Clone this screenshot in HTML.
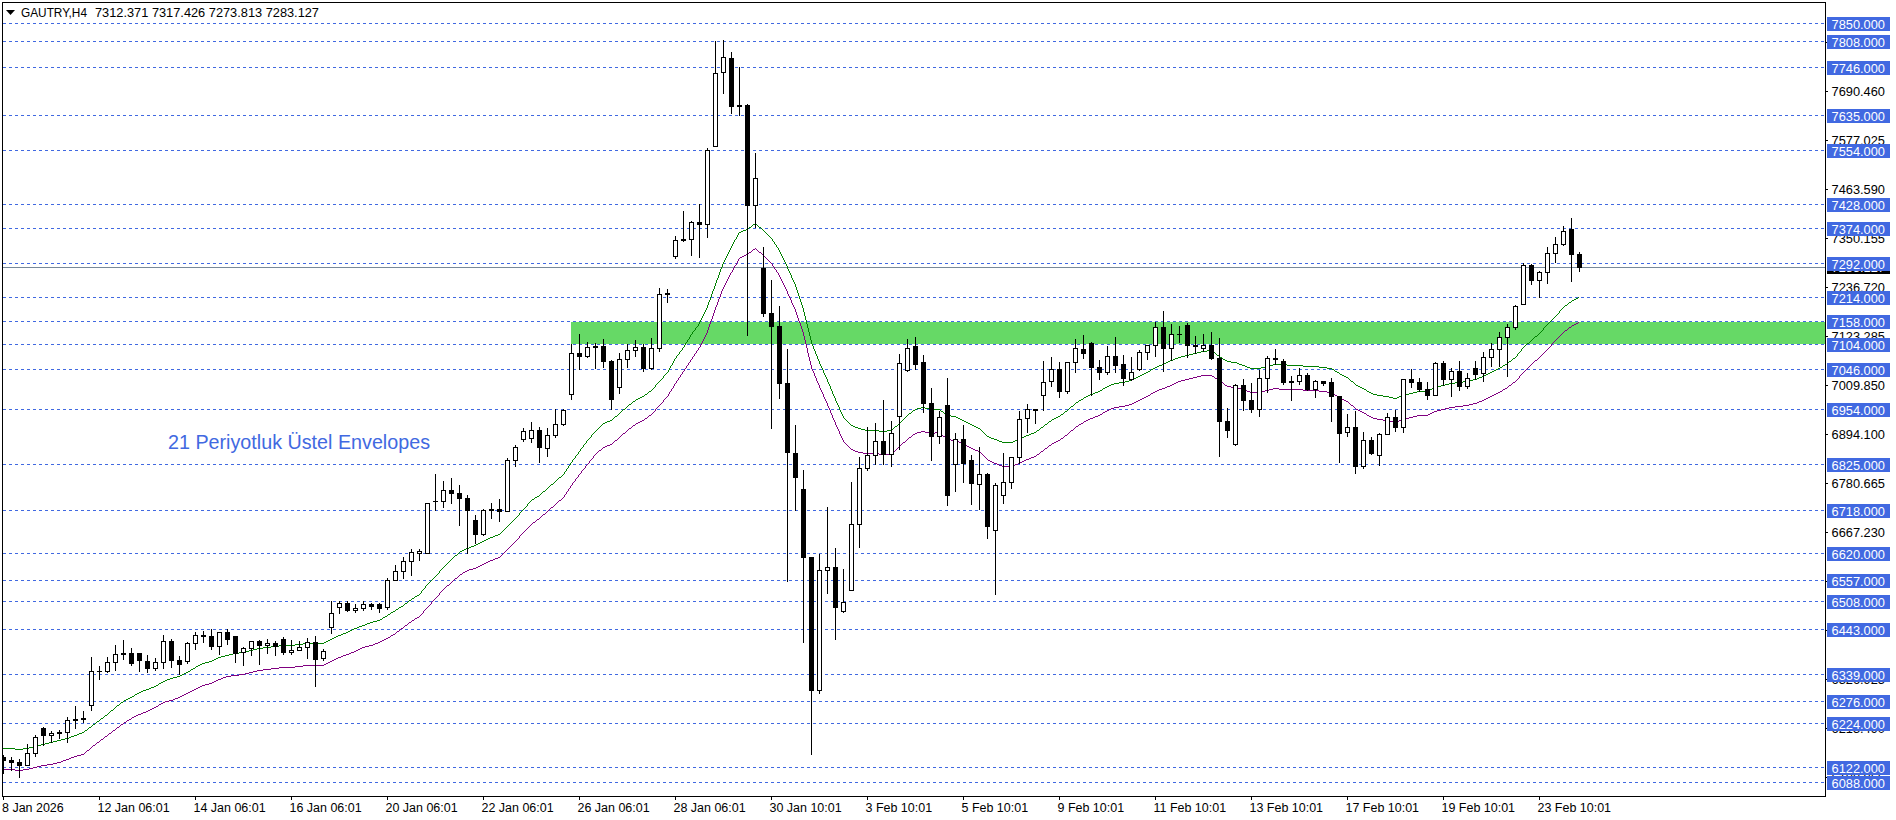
<!DOCTYPE html><html><head><meta charset="utf-8"><style>html,body{margin:0;padding:0;background:#fff;width:1896px;height:820px;overflow:hidden}svg{display:block}text{font-family:"Liberation Sans",sans-serif}</style></head><body>
<svg width="1896" height="820" viewBox="0 0 1896 820">
<rect x="0" y="0" width="1896" height="820" fill="#fff"/>
<defs><clipPath id="ca"><rect x="3" y="3" width="1822" height="793"/></clipPath></defs>
<g clip-path="url(#ca)">
<g shape-rendering="crispEdges">
<rect x="571" y="322" width="1254" height="22" fill="#66d966"/>
<line x1="3" y1="23.5" x2="1825" y2="23.5" stroke="#4169e1" stroke-width="1" stroke-dasharray="3 3"/>
<line x1="3" y1="41.5" x2="1825" y2="41.5" stroke="#4169e1" stroke-width="1" stroke-dasharray="3 3"/>
<line x1="3" y1="67.5" x2="1825" y2="67.5" stroke="#4169e1" stroke-width="1" stroke-dasharray="3 3"/>
<line x1="3" y1="115.5" x2="1825" y2="115.5" stroke="#4169e1" stroke-width="1" stroke-dasharray="3 3"/>
<line x1="3" y1="150.5" x2="1825" y2="150.5" stroke="#4169e1" stroke-width="1" stroke-dasharray="3 3"/>
<line x1="3" y1="204.5" x2="1825" y2="204.5" stroke="#4169e1" stroke-width="1" stroke-dasharray="3 3"/>
<line x1="3" y1="228.5" x2="1825" y2="228.5" stroke="#4169e1" stroke-width="1" stroke-dasharray="3 3"/>
<line x1="3" y1="263.5" x2="1825" y2="263.5" stroke="#4169e1" stroke-width="1" stroke-dasharray="3 3"/>
<line x1="3" y1="297.5" x2="1825" y2="297.5" stroke="#4169e1" stroke-width="1" stroke-dasharray="3 3"/>
<line x1="3" y1="321.5" x2="1825" y2="321.5" stroke="#4169e1" stroke-width="1" stroke-dasharray="3 3"/>
<line x1="3" y1="344.5" x2="1825" y2="344.5" stroke="#4169e1" stroke-width="1" stroke-dasharray="3 3"/>
<line x1="3" y1="369.5" x2="1825" y2="369.5" stroke="#4169e1" stroke-width="1" stroke-dasharray="3 3"/>
<line x1="3" y1="409.5" x2="1825" y2="409.5" stroke="#4169e1" stroke-width="1" stroke-dasharray="3 3"/>
<line x1="3" y1="464.5" x2="1825" y2="464.5" stroke="#4169e1" stroke-width="1" stroke-dasharray="3 3"/>
<line x1="3" y1="510.5" x2="1825" y2="510.5" stroke="#4169e1" stroke-width="1" stroke-dasharray="3 3"/>
<line x1="3" y1="553.5" x2="1825" y2="553.5" stroke="#4169e1" stroke-width="1" stroke-dasharray="3 3"/>
<line x1="3" y1="580.5" x2="1825" y2="580.5" stroke="#4169e1" stroke-width="1" stroke-dasharray="3 3"/>
<line x1="3" y1="601.5" x2="1825" y2="601.5" stroke="#4169e1" stroke-width="1" stroke-dasharray="3 3"/>
<line x1="3" y1="629.5" x2="1825" y2="629.5" stroke="#4169e1" stroke-width="1" stroke-dasharray="3 3"/>
<line x1="3" y1="674.5" x2="1825" y2="674.5" stroke="#4169e1" stroke-width="1" stroke-dasharray="3 3"/>
<line x1="3" y1="701.5" x2="1825" y2="701.5" stroke="#4169e1" stroke-width="1" stroke-dasharray="3 3"/>
<line x1="3" y1="723.5" x2="1825" y2="723.5" stroke="#4169e1" stroke-width="1" stroke-dasharray="3 3"/>
<line x1="3" y1="767.5" x2="1825" y2="767.5" stroke="#4169e1" stroke-width="1" stroke-dasharray="3 3"/>
<line x1="3" y1="782.5" x2="1825" y2="782.5" stroke="#4169e1" stroke-width="1" stroke-dasharray="3 3"/>
<rect x="3" y="267" width="1822" height="1" fill="#778899"/>
<path d="M263 647h8v1h-8zM572 460h1v1h-1zM696 327h1v1h-1zM807 327h1v1h-1zM1544 327h1v1h-1zM591 436h1v1h-1zM987 436h2v1h-2zM1024 436h2v1h-2zM719 273h1v1h-1zM790 273h1v1h-1zM673 362h1v1h-1zM819 362h1v1h-1zM1166 362h2v1h-2zM1231 362h6v1h-6zM1508 362h1v1h-1zM670 367h1v1h-1zM821 367h1v1h-1zM1155 367h2v1h-2zM1247 367h3v1h-3zM1261 367h4v1h-4zM1319 367h8v1h-8zM1500 367h2v1h-2zM615 416h2v1h-2zM843 416h1v1h-1zM906 416h1v1h-1zM951 416h5v1h-5zM1058 416h2v1h-2zM670 366h1v1h-1zM821 366h1v1h-1zM1157 366h2v1h-2zM1245 366h2v1h-2zM1265 366h4v1h-4zM1303 366h16v1h-16zM1502 366h1v1h-1zM61 739h4v1h-4zM649 391h2v1h-2zM832 391h1v1h-1zM1098 391h2v1h-2zM1367 391h2v1h-2zM1417 391h11v1h-11zM623 409h2v1h-2zM839 409h1v1h-1zM915 409h2v1h-2zM929 409h11v1h-11zM1068 409h1v1h-1zM653 388h1v1h-1zM830 388h1v1h-1zM1103 388h2v1h-2zM1362 388h2v1h-2zM1432 388h2v1h-2zM713 290h1v1h-1zM797 290h1v1h-1zM161 682h2v1h-2zM671 365h1v1h-1zM820 365h1v1h-1zM1159 365h3v1h-3zM1242 365h3v1h-3zM1269 365h4v1h-4zM1287 365h16v1h-16zM1503 365h2v1h-2zM3 748h12v1h-12zM23 748h6v1h-6zM583 446h1v1h-1zM326 641h2v1h-2zM669 369h1v1h-1zM822 369h1v1h-1zM1151 369h2v1h-2zM1332 369h2v1h-2zM1496 369h2v1h-2zM625 408h1v1h-1zM839 408h1v1h-1zM917 408h4v1h-4zM925 408h4v1h-4zM1069 408h1v1h-1zM158 684h1v1h-1zM622 410h1v1h-1zM840 410h1v1h-1zM913 410h2v1h-2zM940 410h1v1h-1zM1067 410h1v1h-1zM49 742h4v1h-4zM188 671h2v1h-2zM657 383h1v1h-1zM828 383h1v1h-1zM1114 383h5v1h-5zM1354 383h1v1h-1zM1449 383h6v1h-6zM752 225h1v1h-1zM757 225h1v1h-1zM680 351h1v1h-1zM815 351h1v1h-1zM1201 351h6v1h-6zM1212 351h1v1h-1zM1520 351h1v1h-1zM212 660h2v1h-2zM664 375h1v1h-1zM825 375h1v1h-1zM1140 375h2v1h-2zM1342 375h2v1h-2zM1484 375h2v1h-2zM700 320h1v1h-1zM806 320h1v1h-1zM1551 320h1v1h-1zM427 584h1v1h-1zM594 432h1v1h-1zM983 432h1v1h-1zM1034 432h2v1h-2zM205 662h4v1h-4zM588 439h1v1h-1zM994 439h3v1h-3zM1018 439h2v1h-2zM303 643h21v1h-21zM613 418h1v1h-1zM844 418h1v1h-1zM904 418h1v1h-1zM958 418h2v1h-2zM1054 418h2v1h-2zM37 745h4v1h-4zM346 632h2v1h-2zM466 548h3v1h-3zM730 249h1v1h-1zM778 249h1v1h-1zM656 384h1v1h-1zM829 384h1v1h-1zM1111 384h3v1h-3zM1355 384h1v1h-1zM1445 384h4v1h-4zM669 368h1v1h-1zM822 368h1v1h-1zM1153 368h2v1h-2zM1250 368h11v1h-11zM1327 368h5v1h-5zM1498 368h2v1h-2zM678 354h1v1h-1zM816 354h1v1h-1zM1189 354h4v1h-4zM1216 354h1v1h-1zM1517 354h1v1h-1zM699 323h1v1h-1zM806 323h1v1h-1zM1548 323h1v1h-1zM610 420h2v1h-2zM846 420h1v1h-1zM902 420h1v1h-1zM962 420h2v1h-2zM1051 420h1v1h-1zM633 401h2v1h-2zM836 401h1v1h-1zM1078 401h1v1h-1zM722 265h1v1h-1zM786 265h1v1h-1zM647 393h1v1h-1zM832 393h1v1h-1zM1093 393h2v1h-2zM1371 393h2v1h-2zM1409 393h4v1h-4zM661 379h1v1h-1zM827 379h1v1h-1zM1132 379h2v1h-2zM1349 379h1v1h-1zM1473 379h4v1h-4zM439 572h1v1h-1zM648 392h1v1h-1zM832 392h1v1h-1zM1095 392h3v1h-3zM1369 392h2v1h-2zM1413 392h4v1h-4zM698 324h1v1h-1zM807 324h1v1h-1zM1547 324h1v1h-1zM551 484h2v1h-2zM571 462h1v1h-1zM726 256h1v1h-1zM782 256h1v1h-1zM654 387h1v1h-1zM830 387h1v1h-1zM1105 387h2v1h-2zM1360 387h2v1h-2zM1434 387h3v1h-3zM707 307h1v1h-1zM802 307h1v1h-1zM1563 307h1v1h-1zM658 382h1v1h-1zM828 382h1v1h-1zM1119 382h6v1h-6zM1353 382h1v1h-1zM1455 382h8v1h-8zM629 404h2v1h-2zM837 404h1v1h-1zM1074 404h1v1h-1zM596 430h1v1h-1zM865 430h14v1h-14zM887 430h5v1h-5zM981 430h1v1h-1zM1037 430h2v1h-2zM295 644h8v1h-8zM712 293h1v1h-1zM798 293h1v1h-1zM130 697h2v1h-2zM504 529h1v1h-1zM640 397h2v1h-2zM834 397h1v1h-1zM1084 397h2v1h-2zM1389 397h4v1h-4zM1397 397h2v1h-2zM642 396h2v1h-2zM834 396h1v1h-1zM1086 396h2v1h-2zM1383 396h6v1h-6zM1399 396h3v1h-3zM562 475h1v1h-1zM586 442h1v1h-1zM1002 442h11v1h-11zM519 513h1v1h-1zM180 675h2v1h-2zM706 308h1v1h-1zM803 308h1v1h-1zM1562 308h1v1h-1zM709 301h1v1h-1zM800 301h1v1h-1zM1571 301h1v1h-1zM149 688h2v1h-2zM692 333h1v1h-1zM809 333h1v1h-1zM1539 333h1v1h-1zM716 281h1v1h-1zM793 281h1v1h-1zM660 380h1v1h-1zM827 380h1v1h-1zM1129 380h3v1h-3zM1350 380h1v1h-1zM1469 380h4v1h-4zM367 623h3v1h-3zM198 665h2v1h-2zM511 522h1v1h-1zM672 364h1v1h-1zM820 364h1v1h-1zM1162 364h2v1h-2zM1239 364h3v1h-3zM1273 364h14v1h-14zM1505 364h2v1h-2zM617 415h1v1h-1zM842 415h1v1h-1zM907 415h1v1h-1zM947 415h4v1h-4zM1060 415h1v1h-1zM570 464h1v1h-1zM674 360h1v1h-1zM818 360h1v1h-1zM1170 360h3v1h-3zM1225 360h2v1h-2zM1511 360h1v1h-1zM668 370h1v1h-1zM823 370h1v1h-1zM1150 370h1v1h-1zM1334 370h1v1h-1zM1494 370h2v1h-2zM165 680h2v1h-2zM673 361h1v1h-1zM819 361h1v1h-1zM1168 361h2v1h-2zM1227 361h4v1h-4zM1509 361h2v1h-2zM618 414h1v1h-1zM842 414h1v1h-1zM908 414h1v1h-1zM945 414h2v1h-2zM1061 414h2v1h-2zM253 649h4v1h-4zM667 372h1v1h-1zM823 372h1v1h-1zM1146 372h2v1h-2zM1337 372h2v1h-2zM1490 372h2v1h-2zM82 732h2v1h-2zM668 371h1v1h-1zM823 371h1v1h-1zM1148 371h2v1h-2zM1335 371h2v1h-2zM1492 371h2v1h-2zM105 715h2v1h-2zM523 509h1v1h-1zM682 348h1v1h-1zM813 348h1v1h-1zM1522 348h1v1h-1zM644 395h1v1h-1zM833 395h1v1h-1zM1088 395h2v1h-2zM1377 395h6v1h-6zM1402 395h3v1h-3zM405 603h2v1h-2zM672 363h1v1h-1zM819 363h1v1h-1zM1164 363h2v1h-2zM1237 363h2v1h-2zM1507 363h1v1h-1zM239 652h6v1h-6zM687 340h1v1h-1zM811 340h1v1h-1zM1531 340h1v1h-1zM233 653h6v1h-6zM723 263h1v1h-1zM785 263h1v1h-1zM676 356h1v1h-1zM817 356h1v1h-1zM1181 356h4v1h-4zM1219 356h1v1h-1zM1516 356h1v1h-1zM699 322h1v1h-1zM806 322h1v1h-1zM1549 322h1v1h-1zM739 232h2v1h-2zM765 232h1v1h-1zM715 283h1v1h-1zM794 283h1v1h-1zM659 381h1v1h-1zM827 381h1v1h-1zM1125 381h4v1h-4zM1351 381h2v1h-2zM1463 381h6v1h-6zM113 709h1v1h-1zM141 691h2v1h-2zM620 412h1v1h-1zM841 412h1v1h-1zM911 412h1v1h-1zM943 412h1v1h-1zM1064 412h1v1h-1zM717 279h1v1h-1zM792 279h1v1h-1zM91 726h1v1h-1zM137 693h2v1h-2zM715 284h1v1h-1zM795 284h1v1h-1zM735 239h1v1h-1zM772 239h1v1h-1zM711 295h1v1h-1zM798 295h1v1h-1zM216 658h2v1h-2zM354 628h3v1h-3zM681 350h1v1h-1zM814 350h1v1h-1zM1207 350h5v1h-5zM1521 350h1v1h-1zM686 342h1v1h-1zM811 342h1v1h-1zM1529 342h1v1h-1zM537 496h2v1h-2zM586 441h1v1h-1zM999 441h3v1h-3zM1013 441h2v1h-2zM663 376h1v1h-1zM825 376h1v1h-1zM1138 376h2v1h-2zM1344 376h2v1h-2zM1482 376h2v1h-2zM593 433h1v1h-1zM984 433h1v1h-1zM1031 433h3v1h-3zM601 425h1v1h-1zM851 425h2v1h-2zM897 425h1v1h-1zM972 425h2v1h-2zM1044 425h1v1h-1zM495 535h3v1h-3zM69 737h2v1h-2zM738 234h1v1h-1zM767 234h1v1h-1zM655 385h1v1h-1zM829 385h1v1h-1zM1109 385h2v1h-2zM1356 385h2v1h-2zM1441 385h4v1h-4zM702 317h1v1h-1zM805 317h1v1h-1zM1554 317h1v1h-1zM89 727h2v1h-2zM734 241h1v1h-1zM773 241h1v1h-1zM703 314h1v1h-1zM804 314h1v1h-1zM1557 314h1v1h-1zM600 426h1v1h-1zM853 426h2v1h-2zM895 426h2v1h-2zM974 426h2v1h-2zM1043 426h1v1h-1zM545 490h1v1h-1zM279 645h16v1h-16zM730 248h1v1h-1zM778 248h1v1h-1zM45 743h4v1h-4zM576 455h1v1h-1zM662 378h1v1h-1zM826 378h1v1h-1zM1134 378h2v1h-2zM1348 378h1v1h-1zM1477 378h2v1h-2zM591 435h1v1h-1zM986 435h1v1h-1zM1026 435h3v1h-3zM722 264h1v1h-1zM786 264h1v1h-1zM439 571h1v1h-1zM631 403h1v1h-1zM837 403h1v1h-1zM1075 403h1v1h-1zM396 609h2v1h-2zM97 721h2v1h-2zM33 746h4v1h-4zM420 593h1v1h-1zM716 282h1v1h-1zM794 282h1v1h-1zM701 319h1v1h-1zM805 319h1v1h-1zM1552 319h1v1h-1zM674 359h1v1h-1zM818 359h1v1h-1zM1173 359h2v1h-2zM1223 359h2v1h-2zM1512 359h1v1h-1zM712 292h1v1h-1zM797 292h1v1h-1zM638 398h2v1h-2zM835 398h1v1h-1zM1083 398h1v1h-1zM1393 398h4v1h-4zM741 231h2v1h-2zM764 231h1v1h-1zM697 326h1v1h-1zM807 326h1v1h-1zM1545 326h1v1h-1zM709 300h1v1h-1zM800 300h1v1h-1zM1572 300h2v1h-2zM595 431h1v1h-1zM879 431h8v1h-8zM982 431h1v1h-1zM1036 431h1v1h-1zM559 477h2v1h-2zM373 621h4v1h-4zM729 251h1v1h-1zM779 251h1v1h-1zM343 633h3v1h-3zM729 250h1v1h-1zM779 250h1v1h-1zM443 567h1v1h-1zM517 516h1v1h-1zM146 689h3v1h-3zM575 457h1v1h-1zM177 676h3v1h-3zM684 346h1v1h-1zM813 346h1v1h-1zM1524 346h1v1h-1zM438 573h1v1h-1zM570 463h1v1h-1zM605 422h2v1h-2zM848 422h1v1h-1zM900 422h1v1h-1zM966 422h2v1h-2zM1048 422h1v1h-1zM334 637h2v1h-2zM365 624h2v1h-2zM689 337h1v1h-1zM810 337h1v1h-1zM1534 337h1v1h-1zM621 411h1v1h-1zM840 411h1v1h-1zM912 411h1v1h-1zM941 411h2v1h-2zM1065 411h2v1h-2zM676 357h1v1h-1zM817 357h1v1h-1zM1178 357h3v1h-3zM1220 357h2v1h-2zM1515 357h1v1h-1zM566 470h1v1h-1zM683 347h1v1h-1zM813 347h1v1h-1zM1523 347h1v1h-1zM597 429h1v1h-1zM861 429h4v1h-4zM892 429h1v1h-1zM980 429h1v1h-1zM1039 429h1v1h-1zM450 560h1v1h-1zM665 374h1v1h-1zM824 374h1v1h-1zM1142 374h2v1h-2zM1340 374h2v1h-2zM1486 374h2v1h-2zM666 373h1v1h-1zM824 373h1v1h-1zM1144 373h2v1h-2zM1339 373h1v1h-1zM1488 373h2v1h-2zM708 302h1v1h-1zM801 302h1v1h-1zM1569 302h2v1h-2zM79 733h3v1h-3zM723 262h1v1h-1zM785 262h1v1h-1zM705 310h1v1h-1zM803 310h1v1h-1zM1560 310h1v1h-1zM590 437h1v1h-1zM989 437h2v1h-2zM1022 437h2v1h-2zM403 605h1v1h-1zM691 334h1v1h-1zM809 334h1v1h-1zM1538 334h1v1h-1zM700 321h1v1h-1zM806 321h1v1h-1zM1550 321h1v1h-1zM619 413h1v1h-1zM841 413h1v1h-1zM909 413h2v1h-2zM944 413h1v1h-1zM1063 413h1v1h-1zM636 399h2v1h-2zM835 399h1v1h-1zM1081 399h2v1h-2zM717 278h1v1h-1zM792 278h1v1h-1zM167 679h3v1h-3zM687 341h1v1h-1zM811 341h1v1h-1zM1530 341h1v1h-1zM114 708h1v1h-1zM679 353h1v1h-1zM815 353h1v1h-1zM1193 353h4v1h-4zM1215 353h1v1h-1zM1518 353h1v1h-1zM134 695h1v1h-1zM476 544h2v1h-2zM57 740h4v1h-4zM387 615h1v1h-1zM218 657h3v1h-3zM710 297h1v1h-1zM799 297h1v1h-1zM1578 297h1v1h-1zM383 617h2v1h-2zM352 629h2v1h-2zM727 254h1v1h-1zM781 254h1v1h-1zM645 394h2v1h-2zM833 394h1v1h-1zM1090 394h3v1h-3zM1373 394h4v1h-4zM1405 394h4v1h-4zM121 702h2v1h-2zM663 377h1v1h-1zM826 377h1v1h-1zM1136 377h2v1h-2zM1346 377h2v1h-2zM1479 377h3v1h-3zM720 270h1v1h-1zM788 270h1v1h-1zM715 285h1v1h-1zM795 285h1v1h-1zM15 749h8v1h-8zM328 640h2v1h-2zM385 616h2v1h-2zM581 448h1v1h-1zM324 642h2v1h-2zM598 428h1v1h-1zM858 428h3v1h-3zM893 428h1v1h-1zM978 428h2v1h-2zM1040 428h1v1h-1zM156 685h2v1h-2zM498 534h2v1h-2zM612 419h1v1h-1zM845 419h1v1h-1zM903 419h1v1h-1zM960 419h2v1h-2zM1052 419h2v1h-2zM425 586h1v1h-1zM592 434h1v1h-1zM985 434h1v1h-1zM1029 434h2v1h-2zM493 536h2v1h-2zM677 355h1v1h-1zM816 355h1v1h-1zM1185 355h4v1h-4zM1217 355h2v1h-2zM1517 355h1v1h-1zM393 611h2v1h-2zM553 483h1v1h-1zM693 331h1v1h-1zM808 331h1v1h-1zM1541 331h1v1h-1zM706 309h1v1h-1zM803 309h1v1h-1zM1561 309h1v1h-1zM417 595h2v1h-2zM675 358h1v1h-1zM817 358h1v1h-1zM1175 358h3v1h-3zM1222 358h1v1h-1zM1513 358h2v1h-2zM703 315h1v1h-1zM804 315h1v1h-1zM1556 315h1v1h-1zM432 579h1v1h-1zM599 427h1v1h-1zM855 427h3v1h-3zM894 427h1v1h-1zM976 427h2v1h-2zM1041 427h2v1h-2zM543 491h2v1h-2zM580 450h1v1h-1zM128 698h2v1h-2zM679 352h1v1h-1zM815 352h1v1h-1zM1197 352h4v1h-4zM1213 352h2v1h-2zM1519 352h1v1h-1zM749 227h2v1h-2zM759 227h2v1h-2zM718 276h1v1h-1zM791 276h1v1h-1zM575 456h1v1h-1zM377 620h3v1h-3zM424 588h1v1h-1zM603 423h2v1h-2zM849 423h1v1h-1zM899 423h1v1h-1zM968 423h2v1h-2zM1047 423h1v1h-1zM444 566h1v1h-1zM484 540h2v1h-2zM698 325h1v1h-1zM807 325h1v1h-1zM1546 325h1v1h-1zM726 257h1v1h-1zM782 257h1v1h-1zM419 594h1v1h-1zM509 524h1v1h-1zM529 502h1v1h-1zM196 666h2v1h-2zM607 421h3v1h-3zM847 421h1v1h-1zM901 421h1v1h-1zM964 421h2v1h-2zM1049 421h2v1h-2zM587 440h1v1h-1zM997 440h2v1h-2zM1015 440h3v1h-3zM221 656h4v1h-4zM524 508h1v1h-1zM249 650h4v1h-4zM710 299h1v1h-1zM800 299h1v1h-1zM1574 299h2v1h-2zM442 568h1v1h-1zM516 517h1v1h-1zM399 607h2v1h-2zM708 304h1v1h-1zM801 304h1v1h-1zM1567 304h1v1h-1zM229 654h4v1h-4zM458 553h1v1h-1zM332 638h2v1h-2zM725 259h1v1h-1zM783 259h1v1h-1zM362 625h3v1h-3zM111 710h2v1h-2zM688 339h1v1h-1zM810 339h1v1h-1zM1532 339h1v1h-1zM753 224h2v1h-2zM756 224h1v1h-1zM449 561h1v1h-1zM214 659h2v1h-2zM651 390h1v1h-1zM831 390h1v1h-1zM1100 390h2v1h-2zM1366 390h1v1h-1zM1428 390h2v1h-2zM401 606h2v1h-2zM685 343h1v1h-1zM811 343h1v1h-1zM1527 343h2v1h-2zM720 269h1v1h-1zM788 269h1v1h-1zM71 736h3v1h-3zM202 663h3v1h-3zM655 386h1v1h-1zM830 386h1v1h-1zM1107 386h2v1h-2zM1358 386h2v1h-2zM1437 386h4v1h-4zM119 704h1v1h-1zM65 738h4v1h-4zM695 328h1v1h-1zM808 328h1v1h-1zM1543 328h1v1h-1zM724 261h1v1h-1zM784 261h1v1h-1zM87 729h1v1h-1zM546 489h1v1h-1zM409 600h2v1h-2zM53 741h4v1h-4zM746 229h2v1h-2zM762 229h1v1h-1zM186 672h2v1h-2zM711 296h1v1h-1zM799 296h1v1h-1zM710 298h1v1h-1zM799 298h1v1h-1zM1576 298h2v1h-2zM743 230h3v1h-3zM763 230h1v1h-1zM41 744h4v1h-4zM464 549h2v1h-2zM632 402h1v1h-1zM836 402h1v1h-1zM1076 402h2v1h-2zM370 622h3v1h-3zM628 405h1v1h-1zM838 405h1v1h-1zM1073 405h1v1h-1zM585 443h1v1h-1zM550 485h1v1h-1zM694 330h1v1h-1zM808 330h1v1h-1zM1542 330h1v1h-1zM737 236h1v1h-1zM769 236h1v1h-1zM580 449h1v1h-1zM711 294h1v1h-1zM798 294h1v1h-1zM751 226h1v1h-1zM758 226h1v1h-1zM503 530h1v1h-1zM718 275h1v1h-1zM791 275h1v1h-1zM124 700h2v1h-2zM722 266h1v1h-1zM787 266h1v1h-1zM143 690h3v1h-3zM486 539h2v1h-2zM415 596h2v1h-2zM163 681h2v1h-2zM193 668h2v1h-2zM451 559h1v1h-1zM431 580h1v1h-1zM564 472h1v1h-1zM104 716h1v1h-1zM126 699h2v1h-2zM614 417h1v1h-1zM843 417h1v1h-1zM905 417h1v1h-1zM956 417h2v1h-2zM1056 417h2v1h-2zM428 583h1v1h-1zM635 400h1v1h-1zM835 400h1v1h-1zM1079 400h2v1h-2zM725 258h1v1h-1zM783 258h1v1h-1zM423 589h1v1h-1zM652 389h1v1h-1zM831 389h1v1h-1zM1102 389h1v1h-1zM1364 389h2v1h-2zM1430 389h2v1h-2zM271 646h8v1h-8zM225 655h4v1h-4zM528 503h1v1h-1zM689 338h1v1h-1zM810 338h1v1h-1zM1533 338h1v1h-1zM455 555h2v1h-2zM682 349h1v1h-1zM814 349h1v1h-1zM1521 349h1v1h-1zM435 576h1v1h-1zM563 474h1v1h-1zM474 545h2v1h-2zM520 512h1v1h-1zM708 303h1v1h-1zM801 303h1v1h-1zM1568 303h1v1h-1zM535 497h2v1h-2zM705 311h1v1h-1zM803 311h1v1h-1zM1559 311h1v1h-1zM704 312h1v1h-1zM804 312h1v1h-1zM1559 312h1v1h-1zM457 554h1v1h-1zM724 260h1v1h-1zM784 260h1v1h-1zM737 235h1v1h-1zM768 235h1v1h-1zM684 345h1v1h-1zM812 345h1v1h-1zM1525 345h1v1h-1zM690 336h1v1h-1zM810 336h1v1h-1zM1535 336h2v1h-2zM721 268h1v1h-1zM787 268h1v1h-1zM733 242h1v1h-1zM774 242h1v1h-1zM727 255h1v1h-1zM781 255h1v1h-1zM589 438h1v1h-1zM991 438h3v1h-3zM1020 438h2v1h-2zM341 634h2v1h-2zM117 705h2v1h-2zM704 313h1v1h-1zM804 313h1v1h-1zM1558 313h1v1h-1zM391 612h2v1h-2zM736 237h1v1h-1zM770 237h1v1h-1zM732 244h1v1h-1zM775 244h1v1h-1zM425 587h1v1h-1zM173 677h4v1h-4zM510 523h1v1h-1zM627 406h1v1h-1zM838 406h1v1h-1zM1071 406h2v1h-2zM93 724h2v1h-2zM437 574h1v1h-1zM482 541h2v1h-2zM584 444h1v1h-1zM549 486h1v1h-1zM522 510h1v1h-1zM502 531h1v1h-1zM245 651h4v1h-4zM728 252h1v1h-1zM780 252h1v1h-1zM77 734h2v1h-2zM731 247h1v1h-1zM777 247h1v1h-1zM718 277h1v1h-1zM791 277h1v1h-1zM556 480h1v1h-1zM514 519h1v1h-1zM690 335h1v1h-1zM809 335h1v1h-1zM1537 335h1v1h-1zM257 648h6v1h-6zM568 467h1v1h-1zM330 639h2v1h-2zM109 712h1v1h-1zM626 407h1v1h-1zM839 407h1v1h-1zM921 407h4v1h-4zM1070 407h1v1h-1zM748 228h1v1h-1zM761 228h1v1h-1zM447 563h1v1h-1zM350 630h2v1h-2zM602 424h1v1h-1zM850 424h1v1h-1zM898 424h1v1h-1zM970 424h2v1h-2zM1045 424h2v1h-2zM200 664h2v1h-2zM88 728h1v1h-1zM714 287h1v1h-1zM796 287h1v1h-1zM29 747h4v1h-4zM454 556h1v1h-1zM411 599h1v1h-1zM721 267h1v1h-1zM787 267h1v1h-1zM184 673h2v1h-2zM471 546h3v1h-3zM154 686h2v1h-2zM490 537h3v1h-3zM96 722h1v1h-1zM720 271h1v1h-1zM789 271h1v1h-1zM462 550h2v1h-2zM695 329h1v1h-1zM808 329h1v1h-1zM1543 329h1v1h-1zM115 707h1v1h-1zM714 286h1v1h-1zM795 286h1v1h-1zM542 492h1v1h-1zM702 316h1v1h-1zM805 316h1v1h-1zM1555 316h1v1h-1zM539 495h1v1h-1zM338 635h3v1h-3zM170 678h3v1h-3zM692 332h1v1h-1zM809 332h1v1h-1zM1540 332h1v1h-1zM195 667h1v1h-1zM359 626h3v1h-3zM390 613h1v1h-1zM191 669h2v1h-2zM701 318h1v1h-1zM805 318h1v1h-1zM1553 318h1v1h-1zM429 582h1v1h-1zM731 246h1v1h-1zM776 246h1v1h-1zM707 306h1v1h-1zM802 306h1v1h-1zM1564 306h1v1h-1zM557 479h1v1h-1zM707 305h1v1h-1zM802 305h1v1h-1zM1565 305h2v1h-2zM421 591h1v1h-1zM441 569h1v1h-1zM515 518h1v1h-1zM573 459h1v1h-1zM568 466h1v1h-1zM436 575h1v1h-1zM564 473h1v1h-1zM521 511h1v1h-1zM110 711h1v1h-1zM448 562h1v1h-1zM513 520h1v1h-1zM685 344h1v1h-1zM812 344h1v1h-1zM1526 344h1v1h-1zM135 694h2v1h-2zM108 713h1v1h-1zM525 507h1v1h-1zM408 601h1v1h-1zM734 240h1v1h-1zM772 240h1v1h-1zM380 619h2v1h-2zM151 687h3v1h-3zM733 243h1v1h-1zM774 243h1v1h-1zM95 723h1v1h-1zM460 551h2v1h-2zM414 597h1v1h-1zM480 542h2v1h-2zM547 488h1v1h-1zM736 238h1v1h-1zM771 238h1v1h-1zM713 289h1v1h-1zM796 289h1v1h-1zM732 245h1v1h-1zM776 245h1v1h-1zM500 533h1v1h-1zM74 735h3v1h-3zM103 717h1v1h-1zM578 452h1v1h-1zM569 465h1v1h-1zM507 526h1v1h-1zM527 504h1v1h-1zM159 683h2v1h-2zM738 233h1v1h-1zM766 233h1v1h-1zM728 253h1v1h-1zM780 253h1v1h-1zM101 718h2v1h-2zM209 661h3v1h-3zM577 454h1v1h-1zM348 631h2v1h-2zM534 498h1v1h-1zM440 570h1v1h-1zM132 696h2v1h-2zM182 674h2v1h-2zM532 499h2v1h-2zM116 706h1v1h-1zM714 288h1v1h-1zM796 288h1v1h-1zM407 602h1v1h-1zM719 272h1v1h-1zM789 272h1v1h-1zM92 725h1v1h-1zM139 692h2v1h-2zM583 445h1v1h-1zM548 487h1v1h-1zM357 627h2v1h-2zM100 719h1v1h-1zM422 590h1v1h-1zM574 458h1v1h-1zM555 481h1v1h-1zM434 577h1v1h-1zM567 468h1v1h-1zM582 447h1v1h-1zM446 564h1v1h-1zM469 547h2v1h-2zM421 592h1v1h-1zM716 280h1v1h-1zM793 280h1v1h-1zM398 608h1v1h-1zM531 500h1v1h-1zM488 538h2v1h-2zM526 506h1v1h-1zM506 527h1v1h-1zM453 557h1v1h-1zM382 618h1v1h-1zM518 515h1v1h-1zM561 476h1v1h-1zM336 636h2v1h-2zM85 730h2v1h-2zM541 493h1v1h-1zM404 604h1v1h-1zM388 614h2v1h-2zM412 598h2v1h-2zM478 543h2v1h-2zM190 670h1v1h-1zM501 532h1v1h-1zM579 451h1v1h-1zM123 701h1v1h-1zM572 461h1v1h-1zM508 525h1v1h-1zM719 274h1v1h-1zM790 274h1v1h-1zM712 291h1v1h-1zM797 291h1v1h-1zM505 528h1v1h-1zM426 585h1v1h-1zM578 453h1v1h-1zM99 720h1v1h-1zM554 482h1v1h-1zM512 521h1v1h-1zM395 610h1v1h-1zM433 578h1v1h-1zM527 505h1v1h-1zM566 469h1v1h-1zM84 731h1v1h-1zM430 581h1v1h-1zM107 714h1v1h-1zM445 565h1v1h-1zM519 514h1v1h-1zM558 478h1v1h-1zM530 501h1v1h-1zM452 558h1v1h-1zM565 471h1v1h-1zM755 223h1v1h-1zM459 552h1v1h-1zM540 494h1v1h-1zM120 703h1v1h-1z" fill="#008000" shape-rendering="crispEdges"/>
<path d="M626 431h1v1h-1zM839 431h1v1h-1zM921 431h4v1h-4zM1070 431h1v1h-1zM583 469h1v1h-1zM627 430h1v1h-1zM838 430h1v1h-1zM1071 430h2v1h-2zM585 466h1v1h-1zM1002 466h11v1h-11zM669 392h1v1h-1zM822 392h1v1h-1zM1153 392h2v1h-2zM1250 392h11v1h-11zM1327 392h5v1h-5zM1498 392h2v1h-2zM279 667h16v1h-16zM671 389h1v1h-1zM820 389h1v1h-1zM1159 389h3v1h-3zM1241 389h4v1h-4zM1269 389h4v1h-4zM1279 389h24v1h-24zM1503 389h2v1h-2zM671 390h1v1h-1zM821 390h1v1h-1zM1157 390h2v1h-2zM1245 390h2v1h-2zM1265 390h4v1h-4zM1303 390h16v1h-16zM1502 390h1v1h-1zM500 556h1v1h-1zM642 420h2v1h-2zM834 420h1v1h-1zM1086 420h2v1h-2zM1383 420h6v1h-6zM1399 420h3v1h-3zM681 374h1v1h-1zM814 374h1v1h-1zM1521 374h1v1h-1zM733 269h1v1h-1zM775 269h1v1h-1zM593 457h1v1h-1zM985 457h1v1h-1zM1031 457h3v1h-3zM586 465h1v1h-1zM999 465h3v1h-3zM1013 465h2v1h-2zM599 450h2v1h-2zM853 450h2v1h-2zM895 450h1v1h-1zM975 450h3v1h-3zM1043 450h1v1h-1zM469 569h4v1h-4zM427 607h1v1h-1zM594 455h1v1h-1zM983 455h1v1h-1zM1036 455h1v1h-1zM633 425h2v1h-2zM836 425h1v1h-1zM1078 425h1v1h-1zM591 459h1v1h-1zM987 459h1v1h-1zM1026 459h3v1h-3zM465 571h2v1h-2zM399 630h1v1h-1zM726 282h1v1h-1zM782 282h1v1h-1zM200 686h2v1h-2zM595 454h1v1h-1zM879 454h13v1h-13zM982 454h1v1h-1zM1037 454h2v1h-2zM656 408h1v1h-1zM829 408h1v1h-1zM1111 408h3v1h-3zM1355 408h1v1h-1zM1445 408h4v1h-4zM744 255h2v1h-2zM763 255h1v1h-1zM678 378h1v1h-1zM816 378h1v1h-1zM1189 378h4v1h-4zM1215 378h2v1h-2zM1518 378h1v1h-1zM692 357h1v1h-1zM809 357h1v1h-1zM1539 357h1v1h-1zM196 688h2v1h-2zM551 507h2v1h-2zM571 485h1v1h-1zM672 388h1v1h-1zM820 388h1v1h-1zM1162 388h3v1h-3zM1237 388h4v1h-4zM1273 388h6v1h-6zM1505 388h2v1h-2zM667 396h1v1h-1zM823 396h1v1h-1zM1146 396h2v1h-2zM1337 396h2v1h-2zM1490 396h2v1h-2zM295 666h8v1h-8zM704 337h1v1h-1zM804 337h1v1h-1zM1558 337h1v1h-1zM596 453h1v1h-1zM863 453h16v1h-16zM892 453h1v1h-1zM981 453h1v1h-1zM1039 453h1v1h-1zM601 449h1v1h-1zM851 449h2v1h-2zM896 449h1v1h-1zM973 449h2v1h-2zM1044 449h1v1h-1zM673 387h1v1h-1zM819 387h1v1h-1zM1165 387h2v1h-2zM1231 387h6v1h-6zM1507 387h1v1h-1zM676 381h1v1h-1zM817 381h1v1h-1zM1178 381h3v1h-3zM1220 381h1v1h-1zM1515 381h1v1h-1zM712 316h1v1h-1zM797 316h1v1h-1zM84 753h1v1h-1zM736 264h1v1h-1zM772 264h1v1h-1zM668 395h1v1h-1zM823 395h1v1h-1zM1148 395h2v1h-2zM1335 395h2v1h-2zM1492 395h2v1h-2zM504 552h1v1h-1zM675 383h1v1h-1zM818 383h1v1h-1zM1174 383h2v1h-2zM1223 383h1v1h-1zM1512 383h1v1h-1zM648 416h1v1h-1zM832 416h1v1h-1zM1095 416h3v1h-3zM1369 416h2v1h-2zM1413 416h4v1h-4zM737 262h1v1h-1zM770 262h1v1h-1zM707 331h1v1h-1zM802 331h1v1h-1zM1564 331h1v1h-1zM598 451h1v1h-1zM855 451h3v1h-3zM894 451h1v1h-1zM978 451h2v1h-2zM1041 451h2v1h-2zM562 498h1v1h-1zM663 401h1v1h-1zM826 401h1v1h-1zM1136 401h2v1h-2zM1346 401h2v1h-2zM1479 401h3v1h-3zM378 642h2v1h-2zM736 263h1v1h-1zM771 263h1v1h-1zM752 250h1v1h-1zM757 250h1v1h-1zM445 587h1v1h-1zM519 536h1v1h-1zM733 268h1v1h-1zM774 268h1v1h-1zM577 477h1v1h-1zM346 654h3v1h-3zM732 271h1v1h-1zM776 271h1v1h-1zM612 443h1v1h-1zM845 443h1v1h-1zM902 443h1v1h-1zM962 443h2v1h-2zM1052 443h2v1h-2zM680 376h1v1h-1zM815 376h1v1h-1zM1197 376h4v1h-4zM1212 376h2v1h-2zM1519 376h1v1h-1zM148 710h2v1h-2zM603 447h2v1h-2zM849 447h1v1h-1zM898 447h1v1h-1zM969 447h2v1h-2zM1047 447h1v1h-1zM657 407h1v1h-1zM828 407h1v1h-1zM1114 407h5v1h-5zM1354 407h1v1h-1zM1449 407h6v1h-6zM660 404h1v1h-1zM827 404h1v1h-1zM1129 404h3v1h-3zM1350 404h1v1h-1zM1469 404h4v1h-4zM647 417h1v1h-1zM832 417h1v1h-1zM1093 417h2v1h-2zM1371 417h2v1h-2zM1409 417h4v1h-4zM226 676h5v1h-5zM728 278h1v1h-1zM780 278h1v1h-1zM669 393h1v1h-1zM822 393h1v1h-1zM1151 393h2v1h-2zM1332 393h2v1h-2zM1496 393h2v1h-2zM531 524h1v1h-1zM678 379h1v1h-1zM816 379h1v1h-1zM1185 379h4v1h-4zM1217 379h2v1h-2zM1517 379h1v1h-1zM365 646h4v1h-4zM654 411h1v1h-1zM830 411h1v1h-1zM1105 411h2v1h-2zM1360 411h2v1h-2zM1434 411h3v1h-3zM336 658h2v1h-2zM511 545h1v1h-1zM632 426h1v1h-1zM836 426h1v1h-1zM1076 426h2v1h-2zM655 410h1v1h-1zM830 410h1v1h-1zM1107 410h2v1h-2zM1358 410h2v1h-2zM1437 410h4v1h-4zM659 405h1v1h-1zM827 405h1v1h-1zM1125 405h4v1h-4zM1351 405h2v1h-2zM1463 405h6v1h-6zM614 441h1v1h-1zM843 441h1v1h-1zM905 441h1v1h-1zM957 441h2v1h-2zM1056 441h2v1h-2zM138 714h3v1h-3zM588 463h1v1h-1zM994 463h3v1h-3zM1018 463h2v1h-2zM688 363h1v1h-1zM810 363h1v1h-1zM1532 363h1v1h-1zM617 439h1v1h-1zM842 439h1v1h-1zM907 439h1v1h-1zM947 439h4v1h-4zM1060 439h1v1h-1zM332 660h2v1h-2zM690 360h1v1h-1zM809 360h1v1h-1zM1535 360h2v1h-2zM658 406h1v1h-1zM828 406h1v1h-1zM1119 406h6v1h-6zM1353 406h1v1h-1zM1455 406h8v1h-8zM257 670h6v1h-6zM670 391h1v1h-1zM821 391h1v1h-1zM1155 391h2v1h-2zM1247 391h3v1h-3zM1261 391h4v1h-4zM1319 391h8v1h-8zM1500 391h2v1h-2zM698 349h1v1h-1zM807 349h1v1h-1zM1547 349h1v1h-1zM631 427h1v1h-1zM837 427h1v1h-1zM1075 427h1v1h-1zM81 754h3v1h-3zM188 692h2v1h-2zM684 370h1v1h-1zM812 370h1v1h-1zM1525 370h1v1h-1zM625 432h1v1h-1zM839 432h1v1h-1zM917 432h4v1h-4zM925 432h4v1h-4zM935 432h5v1h-5zM1069 432h1v1h-1zM245 673h4v1h-4zM644 419h1v1h-1zM833 419h1v1h-1zM1088 419h2v1h-2zM1377 419h6v1h-6zM1402 419h3v1h-3zM725 284h1v1h-1zM783 284h1v1h-1zM694 355h1v1h-1zM808 355h1v1h-1zM1541 355h1v1h-1zM679 377h1v1h-1zM815 377h1v1h-1zM1193 377h4v1h-4zM1214 377h1v1h-1zM1519 377h1v1h-1zM724 285h1v1h-1zM784 285h1v1h-1zM707 330h1v1h-1zM802 330h1v1h-1zM1565 330h2v1h-2zM263 669h8v1h-8zM33 767h4v1h-4zM684 369h1v1h-1zM812 369h1v1h-1zM1526 369h1v1h-1zM661 403h1v1h-1zM827 403h1v1h-1zM1132 403h2v1h-2zM1349 403h1v1h-1zM1473 403h4v1h-4zM619 437h1v1h-1zM841 437h1v1h-1zM909 437h2v1h-2zM945 437h1v1h-1zM1063 437h1v1h-1zM694 354h1v1h-1zM808 354h1v1h-1zM1542 354h1v1h-1zM718 301h1v1h-1zM791 301h1v1h-1zM90 748h1v1h-1zM607 445h3v1h-3zM847 445h1v1h-1zM900 445h1v1h-1zM966 445h1v1h-1zM1049 445h2v1h-2zM412 620h2v1h-2zM668 394h1v1h-1zM823 394h1v1h-1zM1150 394h1v1h-1zM1334 394h1v1h-1zM1494 394h2v1h-2zM723 288h1v1h-1zM785 288h1v1h-1zM15 770h8v1h-8zM190 691h2v1h-2zM712 318h1v1h-1zM798 318h1v1h-1zM409 622h2v1h-2zM354 651h2v1h-2zM735 265h1v1h-1zM772 265h1v1h-1zM386 638h2v1h-2zM649 415h2v1h-2zM832 415h1v1h-1zM1098 415h2v1h-2zM1367 415h2v1h-2zM1417 415h11v1h-11zM708 328h1v1h-1zM801 328h1v1h-1zM1568 328h1v1h-1zM734 266h1v1h-1zM773 266h1v1h-1zM156 706h2v1h-2zM239 674h6v1h-6zM47 764h6v1h-6zM673 386h1v1h-1zM819 386h1v1h-1zM1167 386h3v1h-3zM1227 386h4v1h-4zM1508 386h1v1h-1zM205 684h4v1h-4zM120 725h1v1h-1zM537 519h2v1h-2zM706 333h1v1h-1zM803 333h1v1h-1zM1562 333h1v1h-1zM97 742h2v1h-2zM61 761h2v1h-2zM548 510h1v1h-1zM722 290h1v1h-1zM786 290h1v1h-1zM682 373h1v1h-1zM814 373h1v1h-1zM1522 373h1v1h-1zM691 359h1v1h-1zM809 359h1v1h-1zM1537 359h1v1h-1zM326 663h2v1h-2zM105 736h2v1h-2zM686 367h1v1h-1zM811 367h1v1h-1zM1528 367h1v1h-1zM3 769h12v1h-12zM23 769h6v1h-6zM664 399h1v1h-1zM825 399h1v1h-1zM1140 399h2v1h-2zM1342 399h2v1h-2zM1484 399h2v1h-2zM665 398h1v1h-1zM824 398h1v1h-1zM1142 398h2v1h-2zM1340 398h2v1h-2zM1486 398h2v1h-2zM495 558h3v1h-3zM701 343h1v1h-1zM805 343h1v1h-1zM1552 343h1v1h-1zM674 384h1v1h-1zM818 384h1v1h-1zM1172 384h2v1h-2zM1224 384h1v1h-1zM1511 384h1v1h-1zM726 281h1v1h-1zM782 281h1v1h-1zM663 400h1v1h-1zM825 400h1v1h-1zM1138 400h2v1h-2zM1344 400h2v1h-2zM1482 400h2v1h-2zM576 478h1v1h-1zM178 697h2v1h-2zM655 409h1v1h-1zM829 409h1v1h-1zM1109 409h2v1h-2zM1356 409h2v1h-2zM1441 409h4v1h-4zM439 594h1v1h-1zM396 632h1v1h-1zM705 335h1v1h-1zM803 335h1v1h-1zM1560 335h1v1h-1zM740 257h2v1h-2zM765 257h1v1h-1zM696 352h1v1h-1zM807 352h1v1h-1zM1544 352h1v1h-1zM587 464h1v1h-1zM997 464h2v1h-2zM1015 464h3v1h-3zM719 298h1v1h-1zM790 298h1v1h-1zM713 314h1v1h-1zM796 314h1v1h-1zM567 491h1v1h-1zM653 412h1v1h-1zM830 412h1v1h-1zM1103 412h2v1h-2zM1362 412h2v1h-2zM1432 412h2v1h-2zM705 336h1v1h-1zM804 336h1v1h-1zM1559 336h1v1h-1zM582 470h1v1h-1zM713 315h1v1h-1zM797 315h1v1h-1zM431 602h1v1h-1zM734 267h1v1h-1zM774 267h1v1h-1zM720 296h1v1h-1zM789 296h1v1h-1zM623 433h2v1h-2zM839 433h1v1h-1zM915 433h2v1h-2zM929 433h6v1h-6zM940 433h1v1h-1zM1068 433h1v1h-1zM559 500h2v1h-2zM700 345h1v1h-1zM806 345h1v1h-1zM1551 345h1v1h-1zM613 442h1v1h-1zM844 442h1v1h-1zM903 442h2v1h-2zM959 442h3v1h-3zM1054 442h2v1h-2zM488 561h2v1h-2zM303 665h21v1h-21zM231 675h8v1h-8zM169 700h4v1h-4zM570 486h1v1h-1zM629 428h2v1h-2zM837 428h1v1h-1zM1074 428h1v1h-1zM707 332h1v1h-1zM803 332h1v1h-1zM1563 332h1v1h-1zM453 580h1v1h-1zM676 382h1v1h-1zM817 382h1v1h-1zM1176 382h2v1h-2zM1221 382h2v1h-2zM1513 382h2v1h-2zM622 434h1v1h-1zM840 434h1v1h-1zM913 434h2v1h-2zM941 434h1v1h-1zM1067 434h1v1h-1zM253 671h4v1h-4zM566 493h1v1h-1zM640 421h2v1h-2zM834 421h1v1h-1zM1084 421h2v1h-2zM1389 421h4v1h-4zM1397 421h2v1h-2zM450 583h1v1h-1zM751 251h1v1h-1zM758 251h1v1h-1zM405 625h2v1h-2zM677 380h1v1h-1zM816 380h1v1h-1zM1181 380h4v1h-4zM1219 380h1v1h-1zM1516 380h1v1h-1zM662 402h1v1h-1zM826 402h1v1h-1zM1134 402h2v1h-2zM1348 402h1v1h-1zM1477 402h2v1h-2zM71 757h3v1h-3zM701 344h1v1h-1zM806 344h1v1h-1zM1551 344h1v1h-1zM530 525h1v1h-1zM718 300h1v1h-1zM791 300h1v1h-1zM66 759h3v1h-3zM716 306h1v1h-1zM793 306h1v1h-1zM136 715h2v1h-2zM645 418h2v1h-2zM833 418h1v1h-1zM1090 418h3v1h-3zM1373 418h4v1h-4zM1405 418h4v1h-4zM87 750h2v1h-2zM674 385h1v1h-1zM819 385h1v1h-1zM1170 385h2v1h-2zM1225 385h2v1h-2zM1509 385h2v1h-2zM621 435h1v1h-1zM840 435h1v1h-1zM912 435h1v1h-1zM942 435h1v1h-1zM1065 435h2v1h-2zM186 693h2v1h-2zM476 567h2v1h-2zM683 371h1v1h-1zM813 371h1v1h-1zM1524 371h1v1h-1zM732 270h1v1h-1zM776 270h1v1h-1zM356 650h2v1h-2zM41 765h6v1h-6zM638 422h2v1h-2zM835 422h1v1h-1zM1083 422h1v1h-1zM1393 422h4v1h-4zM89 749h1v1h-1zM715 308h1v1h-1zM794 308h1v1h-1zM693 356h1v1h-1zM808 356h1v1h-1zM1540 356h1v1h-1zM602 448h1v1h-1zM850 448h1v1h-1zM897 448h1v1h-1zM971 448h2v1h-2zM1045 448h2v1h-2zM722 289h1v1h-1zM786 289h1v1h-1zM686 366h1v1h-1zM811 366h1v1h-1zM1529 366h1v1h-1zM711 320h1v1h-1zM798 320h1v1h-1zM384 639h2v1h-2zM581 471h1v1h-1zM129 719h2v1h-2zM692 358h1v1h-1zM809 358h1v1h-1zM1538 358h1v1h-1zM467 570h2v1h-2zM498 557h2v1h-2zM425 609h1v1h-1zM592 458h1v1h-1zM986 458h1v1h-1zM1029 458h2v1h-2zM493 559h2v1h-2zM615 440h2v1h-2zM843 440h1v1h-1zM906 440h1v1h-1zM951 440h6v1h-6zM1058 440h2v1h-2zM572 484h1v1h-1zM590 460h1v1h-1zM988 460h2v1h-2zM1024 460h2v1h-2zM420 615h1v1h-1zM393 634h2v1h-2zM553 506h1v1h-1zM738 259h1v1h-1zM767 259h1v1h-1zM163 702h2v1h-2zM702 342h1v1h-1zM805 342h1v1h-1zM1553 342h1v1h-1zM505 551h1v1h-1zM104 737h1v1h-1zM680 375h1v1h-1zM814 375h1v1h-1zM1201 375h11v1h-11zM1520 375h1v1h-1zM127 720h2v1h-2zM543 514h2v1h-2zM580 473h1v1h-1zM443 589h1v1h-1zM146 711h2v1h-2zM718 299h1v1h-1zM790 299h1v1h-1zM575 479h1v1h-1zM175 698h3v1h-3zM730 273h1v1h-1zM778 273h1v1h-1zM375 643h3v1h-3zM610 444h2v1h-2zM846 444h1v1h-1zM901 444h1v1h-1zM964 444h2v1h-2zM1051 444h1v1h-1zM512 544h1v1h-1zM395 633h1v1h-1zM484 563h2v1h-2zM698 348h1v1h-1zM807 348h1v1h-1zM1548 348h1v1h-1zM334 659h2v1h-2zM165 701h4v1h-4zM509 547h1v1h-1zM112 731h1v1h-1zM712 317h1v1h-1zM797 317h1v1h-1zM430 604h1v1h-1zM524 531h1v1h-1zM216 680h2v1h-2zM77 755h4v1h-4zM709 325h1v1h-1zM800 325h1v1h-1zM1572 325h2v1h-2zM558 501h1v1h-1zM748 253h1v1h-1zM761 253h1v1h-1zM403 627h1v1h-1zM516 540h1v1h-1zM729 275h1v1h-1zM779 275h1v1h-1zM716 305h1v1h-1zM793 305h1v1h-1zM458 576h1v1h-1zM688 364h1v1h-1zM810 364h1v1h-1zM1531 364h1v1h-1zM57 762h4v1h-4zM218 679h3v1h-3zM565 494h1v1h-1zM618 438h1v1h-1zM842 438h1v1h-1zM908 438h1v1h-1zM946 438h1v1h-1zM1061 438h2v1h-2zM411 621h1v1h-1zM449 584h1v1h-1zM682 372h1v1h-1zM813 372h1v1h-1zM1523 372h1v1h-1zM593 456h1v1h-1zM984 456h1v1h-1zM1034 456h2v1h-2zM724 286h1v1h-1zM784 286h1v1h-1zM121 724h2v1h-2zM535 521h1v1h-1zM723 287h1v1h-1zM785 287h1v1h-1zM202 685h3v1h-3zM700 346h1v1h-1zM806 346h1v1h-1zM1550 346h1v1h-1zM715 307h1v1h-1zM794 307h1v1h-1zM717 302h1v1h-1zM791 302h1v1h-1zM620 436h1v1h-1zM841 436h1v1h-1zM911 436h1v1h-1zM943 436h2v1h-2zM1064 436h1v1h-1zM717 303h1v1h-1zM792 303h1v1h-1zM711 319h1v1h-1zM798 319h1v1h-1zM546 512h1v1h-1zM473 568h3v1h-3zM324 664h2v1h-2zM343 655h3v1h-3zM597 452h1v1h-1zM858 452h5v1h-5zM893 452h1v1h-1zM980 452h1v1h-1zM1040 452h1v1h-1zM463 572h2v1h-2zM706 334h1v1h-1zM803 334h1v1h-1zM1561 334h1v1h-1zM696 351h1v1h-1zM807 351h1v1h-1zM1545 351h1v1h-1zM93 745h2v1h-2zM702 341h1v1h-1zM805 341h1v1h-1zM1554 341h1v1h-1zM417 617h2v1h-2zM194 689h2v1h-2zM432 601h1v1h-1zM704 338h1v1h-1zM804 338h1v1h-1zM1557 338h1v1h-1zM685 368h1v1h-1zM811 368h1v1h-1zM1527 368h1v1h-1zM424 610h1v1h-1zM444 588h1v1h-1zM699 347h1v1h-1zM806 347h1v1h-1zM1549 347h1v1h-1zM419 616h1v1h-1zM486 562h2v1h-2zM436 597h1v1h-1zM249 672h4v1h-4zM109 733h2v1h-2zM451 582h1v1h-1zM431 603h1v1h-1zM564 495h1v1h-1zM697 350h1v1h-1zM807 350h1v1h-1zM1546 350h1v1h-1zM709 324h1v1h-1zM800 324h1v1h-1zM1574 324h2v1h-2zM442 590h1v1h-1zM749 252h2v1h-2zM759 252h2v1h-2zM400 629h1v1h-1zM69 758h2v1h-2zM423 612h1v1h-1zM570 487h1v1h-1zM362 647h3v1h-3zM605 446h2v1h-2zM848 446h1v1h-1zM899 446h1v1h-1zM967 446h2v1h-2zM1048 446h1v1h-1zM134 716h2v1h-2zM111 732h1v1h-1zM690 361h1v1h-1zM810 361h1v1h-1zM1534 361h1v1h-1zM523 532h1v1h-1zM184 694h2v1h-2zM214 681h2v1h-2zM154 707h2v1h-2zM563 497h1v1h-1zM666 397h1v1h-1zM824 397h1v1h-1zM1144 397h2v1h-2zM1339 397h1v1h-1zM1488 397h2v1h-2zM520 535h1v1h-1zM401 628h2v1h-2zM708 327h1v1h-1zM801 327h1v1h-1zM1569 327h2v1h-2zM96 743h1v1h-1zM119 726h1v1h-1zM636 423h2v1h-2zM835 423h1v1h-1zM1081 423h2v1h-2zM651 414h1v1h-1zM831 414h1v1h-1zM1100 414h2v1h-2zM1366 414h1v1h-1zM1428 414h2v1h-2zM457 577h1v1h-1zM687 365h1v1h-1zM811 365h1v1h-1zM1530 365h1v1h-1zM53 763h4v1h-4zM755 248h1v1h-1zM731 272h1v1h-1zM777 272h1v1h-1zM753 249h2v1h-2zM756 249h1v1h-1zM720 294h1v1h-1zM788 294h1v1h-1zM739 258h1v1h-1zM766 258h1v1h-1zM715 309h1v1h-1zM795 309h1v1h-1zM414 619h1v1h-1zM714 310h1v1h-1zM795 310h1v1h-1zM545 513h1v1h-1zM581 472h1v1h-1zM746 254h2v1h-2zM762 254h1v1h-1zM124 722h2v1h-2zM710 323h1v1h-1zM800 323h1v1h-1zM1576 323h2v1h-2zM373 644h2v1h-2zM143 712h3v1h-3zM510 546h1v1h-1zM63 760h3v1h-3zM223 677h3v1h-3zM415 618h2v1h-2zM738 260h1v1h-1zM768 260h1v1h-1zM482 564h2v1h-2zM549 509h1v1h-1zM703 339h1v1h-1zM804 339h1v1h-1zM1556 339h1v1h-1zM522 533h1v1h-1zM737 261h1v1h-1zM769 261h1v1h-1zM502 554h1v1h-1zM517 539h1v1h-1zM575 480h1v1h-1zM730 274h1v1h-1zM778 274h1v1h-1zM423 611h1v1h-1zM271 668h8v1h-8zM556 503h1v1h-1zM721 291h1v1h-1zM787 291h1v1h-1zM529 526h1v1h-1zM435 598h1v1h-1zM568 490h1v1h-1zM108 734h1v1h-1zM349 653h2v1h-2zM709 326h1v1h-1zM801 326h1v1h-1zM1571 326h1v1h-1zM589 461h1v1h-1zM990 461h2v1h-2zM1022 461h2v1h-2zM729 276h1v1h-1zM779 276h1v1h-1zM29 768h4v1h-4zM116 728h1v1h-1zM725 283h1v1h-1zM783 283h1v1h-1zM454 579h1v1h-1zM382 640h2v1h-2zM351 652h3v1h-3zM152 708h2v1h-2zM407 624h1v1h-1zM490 560h3v1h-3zM95 744h1v1h-1zM341 656h2v1h-2zM117 727h2v1h-2zM173 699h2v1h-2zM717 304h1v1h-1zM792 304h1v1h-1zM192 690h2v1h-2zM542 515h1v1h-1zM74 756h3v1h-3zM103 738h1v1h-1zM126 721h1v1h-1zM727 280h1v1h-1zM781 280h1v1h-1zM628 429h1v1h-1zM838 429h1v1h-1zM1073 429h1v1h-1zM437 596h1v1h-1zM585 467h1v1h-1zM358 649h2v1h-2zM390 636h1v1h-1zM159 704h2v1h-2zM429 605h1v1h-1zM101 739h2v1h-2zM557 502h1v1h-1zM568 489h1v1h-1zM330 661h2v1h-2zM132 717h2v1h-2zM742 256h2v1h-2zM764 256h1v1h-1zM564 496h1v1h-1zM447 585h2v1h-2zM521 534h1v1h-1zM710 321h1v1h-1zM799 321h1v1h-1zM182 695h2v1h-2zM728 277h1v1h-1zM780 277h1v1h-1zM635 424h1v1h-1zM835 424h1v1h-1zM1079 424h2v1h-2zM652 413h1v1h-1zM831 413h1v1h-1zM1102 413h1v1h-1zM1364 413h2v1h-2zM1430 413h2v1h-2zM513 543h1v1h-1zM528 527h1v1h-1zM689 362h1v1h-1zM810 362h1v1h-1zM1533 362h1v1h-1zM85 752h1v1h-1zM92 746h1v1h-1zM115 729h1v1h-1zM532 523h1v1h-1zM369 645h4v1h-4zM589 462h1v1h-1zM992 462h2v1h-2zM1020 462h2v1h-2zM710 322h1v1h-1zM799 322h1v1h-1zM1578 322h1v1h-1zM721 292h1v1h-1zM787 292h1v1h-1zM727 279h1v1h-1zM781 279h1v1h-1zM100 740h1v1h-1zM123 723h1v1h-1zM338 657h3v1h-3zM720 295h1v1h-1zM788 295h1v1h-1zM460 574h2v1h-2zM550 508h1v1h-1zM480 565h2v1h-2zM714 311h1v1h-1zM795 311h1v1h-1zM221 678h2v1h-2zM360 648h2v1h-2zM503 553h1v1h-1zM578 475h1v1h-1zM441 591h1v1h-1zM584 468h1v1h-1zM569 488h1v1h-1zM433 600h1v1h-1zM507 549h1v1h-1zM212 682h2v1h-2zM428 606h1v1h-1zM695 353h1v1h-1zM808 353h1v1h-1zM1543 353h1v1h-1zM198 687h2v1h-2zM455 578h2v1h-2zM408 623h1v1h-1zM380 641h2v1h-2zM150 709h2v1h-2zM536 520h1v1h-1zM708 329h1v1h-1zM802 329h1v1h-1zM1567 329h1v1h-1zM141 713h2v1h-2zM391 635h2v1h-2zM161 703h2v1h-2zM713 313h1v1h-1zM796 313h1v1h-1zM703 340h1v1h-1zM805 340h1v1h-1zM1555 340h1v1h-1zM99 741h1v1h-1zM37 766h4v1h-4zM422 613h1v1h-1zM574 481h1v1h-1zM555 504h1v1h-1zM107 735h1v1h-1zM209 683h3v1h-3zM514 542h1v1h-1zM397 631h2v1h-2zM440 592h1v1h-1zM526 529h1v1h-1zM86 751h1v1h-1zM506 550h1v1h-1zM518 538h1v1h-1zM561 499h1v1h-1zM533 522h2v1h-2zM541 516h1v1h-1zM462 573h1v1h-1zM388 637h2v1h-2zM158 705h1v1h-1zM478 566h2v1h-2zM721 293h1v1h-1zM787 293h1v1h-1zM501 555h1v1h-1zM539 518h1v1h-1zM579 474h1v1h-1zM439 593h1v1h-1zM719 297h1v1h-1zM789 297h1v1h-1zM434 599h1v1h-1zM508 548h1v1h-1zM328 662h2v1h-2zM131 718h1v1h-1zM180 696h2v1h-2zM426 608h1v1h-1zM446 586h1v1h-1zM578 476h1v1h-1zM421 614h1v1h-1zM515 541h1v1h-1zM573 482h1v1h-1zM554 505h1v1h-1zM438 595h1v1h-1zM527 528h1v1h-1zM566 492h1v1h-1zM519 537h1v1h-1zM113 730h2v1h-2zM91 747h1v1h-1zM525 530h1v1h-1zM452 581h1v1h-1zM404 626h1v1h-1zM459 575h1v1h-1zM714 312h1v1h-1zM796 312h1v1h-1zM540 517h1v1h-1zM572 483h1v1h-1zM547 511h1v1h-1z" fill="#800080" shape-rendering="crispEdges"/>
</g>
<path d="M3 755h1v19h-1zM1 757h5v4h-5zM11 757h1v14h-1zM9 760h5v3h-5zM19 759h1v19h-1zM17 762h5v4h-5zM27 744h1v22h-1zM25 753h5v13h-5zM35 735h1v22h-1zM33 737h5v17h-5zM43 727h1v19h-1zM41 728h5v8h-5zM51 731h1v12h-1zM49 733h5v3h-5zM59 730h1v9h-1zM57 732h5v2h-5zM67 717h1v26h-1zM65 720h5v13h-5zM75 706h1v23h-1zM73 719h5v2h-5zM83 711h1v12h-1zM81 718h5v2h-5zM91 657h1v54h-1zM89 671h5v35h-5zM99 666h1v14h-1zM97 671h5v1h-5zM107 657h1v16h-1zM105 662h5v10h-5zM115 645h1v26h-1zM113 654h5v9h-5zM123 640h1v20h-1zM121 653h5v2h-5zM131 648h1v18h-1zM129 653h5v11h-5zM139 653h1v19h-1zM137 653h5v8h-5zM147 655h1v18h-1zM145 661h5v8h-5zM155 658h1v13h-1zM153 662h5v7h-5zM163 635h1v34h-1zM161 641h5v22h-5zM171 639h1v29h-1zM169 641h5v20h-5zM179 656h1v19h-1zM177 660h5v5h-5zM187 642h1v22h-1zM185 643h5v19h-5zM195 632h1v18h-1zM193 635h5v9h-5zM203 631h1v12h-1zM201 635h5v2h-5zM211 629h1v21h-1zM209 636h5v11h-5zM219 632h1v23h-1zM217 632h5v15h-5zM227 629h1v16h-1zM225 632h5v8h-5zM235 636h1v27h-1zM233 636h5v18h-5zM243 647h1v19h-1zM241 648h5v5h-5zM251 641h1v15h-1zM249 641h5v8h-5zM259 640h1v25h-1zM257 641h5v5h-5zM267 639h1v15h-1zM265 643h5v3h-5zM275 641h1v15h-1zM273 643h5v4h-5zM283 637h1v18h-1zM281 639h5v14h-5zM291 640h1v15h-1zM289 650h5v3h-5zM299 641h1v10h-1zM297 647h5v4h-5zM307 638h1v21h-1zM305 642h5v6h-5zM315 636h1v51h-1zM313 642h5v18h-5zM323 649h1v12h-1zM321 651h5v8h-5zM331 601h1v33h-1zM329 613h5v15h-5zM339 601h1v13h-1zM337 603h5v5h-5zM347 601h1v11h-1zM345 603h5v8h-5zM355 604h1v9h-1zM353 608h5v3h-5zM363 601h1v10h-1zM361 604h5v5h-5zM371 603h1v7h-1zM369 604h5v3h-5zM379 603h1v10h-1zM377 604h5v5h-5zM387 578h1v32h-1zM385 580h5v28h-5zM395 565h1v16h-1zM393 571h5v10h-5zM403 557h1v22h-1zM401 561h5v11h-5zM411 549h1v27h-1zM409 552h5v10h-5zM419 549h1v12h-1zM417 551h5v3h-5zM427 503h1v51h-1zM425 503h5v51h-5zM435 474h1v37h-1zM433 501h5v1h-5zM443 481h1v27h-1zM441 490h5v12h-5zM451 478h1v26h-1zM449 490h5v4h-5zM459 485h1v41h-1zM457 493h5v6h-5zM467 495h1v59h-1zM465 498h5v13h-5zM475 515h1v29h-1zM473 520h5v15h-5zM483 509h1v27h-1zM481 510h5v25h-5zM491 503h1v16h-1zM489 509h5v2h-5zM499 499h1v23h-1zM497 509h5v3h-5zM507 458h1v54h-1zM505 460h5v52h-5zM515 445h1v22h-1zM513 447h5v14h-5zM523 428h1v14h-1zM521 431h5v9h-5zM531 422h1v21h-1zM529 430h5v9h-5zM539 427h1v36h-1zM537 430h5v18h-5zM547 428h1v29h-1zM545 435h5v14h-5zM555 409h1v29h-1zM553 424h5v12h-5zM563 409h1v17h-1zM561 410h5v15h-5zM571 344h1v56h-1zM569 353h5v42h-5zM579 334h1v36h-1zM577 353h5v4h-5zM587 342h1v16h-1zM585 347h5v10h-5zM595 343h1v26h-1zM593 346h5v2h-5zM603 339h1v29h-1zM601 346h5v16h-5zM611 360h1v50h-1zM609 361h5v39h-5zM619 353h1v41h-1zM617 359h5v29h-5zM627 344h1v24h-1zM625 350h5v10h-5zM635 340h1v17h-1zM633 347h5v4h-5zM643 344h1v28h-1zM641 347h5v22h-5zM651 338h1v32h-1zM649 348h5v21h-5zM659 288h1v64h-1zM657 294h5v55h-5zM667 289h1v14h-1zM665 293h5v2h-5zM675 236h1v23h-1zM673 240h5v17h-5zM683 211h1v31h-1zM681 239h5v2h-5zM691 221h1v35h-1zM689 222h5v18h-5zM699 204h1v54h-1zM697 222h5v3h-5zM707 148h1v90h-1zM705 150h5v75h-5zM715 41h1v106h-1zM713 73h5v74h-5zM723 40h1v54h-1zM721 57h5v16h-5zM731 52h1v62h-1zM729 58h5v49h-5zM739 67h1v49h-1zM737 105h5v2h-5zM747 104h1v232h-1zM745 105h5v101h-5zM755 153h1v75h-1zM753 178h5v28h-5zM763 247h1v70h-1zM761 268h5v46h-5zM771 280h1v149h-1zM769 313h5v14h-5zM779 306h1v93h-1zM777 326h5v58h-5zM787 349h1v233h-1zM785 383h5v70h-5zM795 425h1v86h-1zM793 453h5v25h-5zM803 470h1v173h-1zM801 489h5v69h-5zM811 557h1v198h-1zM809 557h5v134h-5zM819 554h1v140h-1zM817 570h5v121h-5zM827 507h1v87h-1zM825 567h5v4h-5zM835 548h1v92h-1zM833 567h5v41h-5zM843 569h1v44h-1zM841 602h5v10h-5zM851 482h1v109h-1zM849 524h5v67h-5zM859 457h1v91h-1zM857 468h5v57h-5zM867 427h1v44h-1zM865 455h5v14h-5zM875 423h1v42h-1zM873 441h5v15h-5zM883 400h1v65h-1zM881 441h5v14h-5zM891 421h1v46h-1zM889 433h5v22h-5zM899 354h1v96h-1zM897 363h5v54h-5zM907 339h1v33h-1zM905 348h5v23h-5zM915 337h1v33h-1zM913 346h5v19h-5zM923 355h1v58h-1zM921 362h5v42h-5zM931 388h1v73h-1zM929 403h5v34h-5zM939 411h1v33h-1zM937 417h5v20h-5zM947 378h1v128h-1zM945 405h5v91h-5zM955 433h1v59h-1zM953 439h5v26h-5zM963 425h1v58h-1zM961 439h5v25h-5zM971 455h1v50h-1zM969 460h5v24h-5zM979 447h1v63h-1zM977 474h5v11h-5zM987 473h1v66h-1zM985 474h5v53h-5zM995 483h1v112h-1zM993 485h5v46h-5zM1003 453h1v51h-1zM1001 482h5v14h-5zM1011 457h1v32h-1zM1009 457h5v26h-5zM1019 411h1v53h-1zM1017 419h5v39h-5zM1027 404h1v29h-1zM1025 409h5v10h-5zM1035 409h1v15h-1zM1033 409h5v2h-5zM1043 361h1v50h-1zM1041 382h5v14h-5zM1051 357h1v30h-1zM1049 369h5v13h-5zM1059 362h1v36h-1zM1057 369h5v23h-5zM1067 362h1v32h-1zM1065 362h5v30h-5zM1075 339h1v34h-1zM1073 348h5v15h-5zM1083 335h1v24h-1zM1081 349h5v5h-5zM1091 342h1v54h-1zM1089 343h5v25h-5zM1099 360h1v20h-1zM1097 367h5v6h-5zM1107 346h1v29h-1zM1105 356h5v17h-5zM1115 337h1v36h-1zM1113 356h5v10h-5zM1123 355h1v31h-1zM1121 364h5v15h-5zM1131 357h1v24h-1zM1129 372h5v8h-5zM1139 350h1v21h-1zM1137 352h5v18h-5zM1147 345h1v15h-1zM1145 345h5v8h-5zM1155 322h1v35h-1zM1153 327h5v19h-5zM1163 311h1v61h-1zM1161 327h5v22h-5zM1171 324h1v37h-1zM1169 334h5v15h-5zM1179 326h1v17h-1zM1177 334h5v1h-5zM1187 323h1v35h-1zM1185 325h5v21h-5zM1195 336h1v18h-1zM1193 345h5v2h-5zM1203 334h1v18h-1zM1201 345h5v4h-5zM1211 332h1v28h-1zM1209 345h5v14h-5zM1219 338h1v119h-1zM1217 358h5v64h-5zM1227 408h1v30h-1zM1225 421h5v10h-5zM1235 384h1v62h-1zM1233 385h5v60h-5zM1243 379h1v32h-1zM1241 385h5v16h-5zM1251 383h1v30h-1zM1249 400h5v10h-5zM1259 370h1v47h-1zM1257 378h5v32h-5zM1267 356h1v37h-1zM1265 358h5v21h-5zM1275 349h1v16h-1zM1273 358h5v2h-5zM1283 359h1v26h-1zM1281 361h5v22h-5zM1291 376h1v25h-1zM1289 381h5v2h-5zM1299 368h1v17h-1zM1297 375h5v7h-5zM1307 373h1v18h-1zM1305 375h5v15h-5zM1315 380h1v18h-1zM1313 381h5v9h-5zM1323 381h1v5h-1zM1321 381h5v3h-5zM1331 378h1v44h-1zM1329 382h5v15h-5zM1339 396h1v67h-1zM1337 396h5v38h-5zM1347 414h1v23h-1zM1345 427h5v6h-5zM1355 411h1v63h-1zM1353 427h5v40h-5zM1363 432h1v37h-1zM1361 440h5v27h-5zM1371 437h1v18h-1zM1369 440h5v14h-5zM1379 433h1v33h-1zM1377 434h5v22h-5zM1387 413h1v22h-1zM1385 417h5v18h-5zM1395 410h1v22h-1zM1393 417h5v11h-5zM1403 379h1v54h-1zM1401 379h5v49h-5zM1411 369h1v19h-1zM1409 379h5v4h-5zM1419 378h1v14h-1zM1417 382h5v8h-5zM1427 382h1v18h-1zM1425 389h5v7h-5zM1435 362h1v34h-1zM1433 363h5v33h-5zM1443 361h1v25h-1zM1441 363h5v17h-5zM1451 368h1v29h-1zM1449 371h5v9h-5zM1459 361h1v30h-1zM1457 371h5v16h-5zM1467 373h1v16h-1zM1465 378h5v9h-5zM1475 361h1v19h-1zM1473 368h5v7h-5zM1483 352h1v30h-1zM1481 357h5v17h-5zM1491 343h1v24h-1zM1489 349h5v9h-5zM1499 332h1v35h-1zM1497 337h5v13h-5zM1507 324h1v53h-1zM1505 327h5v11h-5zM1515 305h1v25h-1zM1513 306h5v22h-5zM1523 263h1v42h-1zM1521 265h5v40h-5zM1531 264h1v21h-1zM1529 265h5v16h-5zM1539 271h1v27h-1zM1537 272h5v9h-5zM1547 247h1v37h-1zM1545 253h5v20h-5zM1555 237h1v26h-1zM1553 244h5v10h-5zM1563 226h1v20h-1zM1561 231h5v14h-5zM1571 218h1v64h-1zM1569 229h5v26h-5zM1579 252h1v20h-1zM1577 254h5v14h-5z" fill="#000"/>
<path d="M26 754h3v11h-3zM34 738h3v15h-3zM50 734h3v1h-3zM66 721h3v11h-3zM90 672h3v33h-3zM106 663h3v8h-3zM114 655h3v7h-3zM154 663h3v5h-3zM162 642h3v20h-3zM186 644h3v17h-3zM194 636h3v7h-3zM218 633h3v13h-3zM242 649h3v3h-3zM250 642h3v6h-3zM266 644h3v1h-3zM290 651h3v1h-3zM298 648h3v2h-3zM306 643h3v4h-3zM322 652h3v6h-3zM330 614h3v13h-3zM338 604h3v3h-3zM354 609h3v1h-3zM362 605h3v3h-3zM386 581h3v26h-3zM394 572h3v8h-3zM402 562h3v9h-3zM410 553h3v8h-3zM418 552h3v1h-3zM426 504h3v49h-3zM442 491h3v10h-3zM482 511h3v23h-3zM506 461h3v50h-3zM514 448h3v12h-3zM522 432h3v7h-3zM530 431h3v7h-3zM546 436h3v12h-3zM554 425h3v10h-3zM562 411h3v13h-3zM570 354h3v40h-3zM586 348h3v8h-3zM618 360h3v27h-3zM626 351h3v8h-3zM634 348h3v2h-3zM650 349h3v19h-3zM658 295h3v53h-3zM674 241h3v15h-3zM690 223h3v16h-3zM706 151h3v73h-3zM714 74h3v72h-3zM722 58h3v14h-3zM754 179h3v26h-3zM818 571h3v119h-3zM826 568h3v2h-3zM842 603h3v8h-3zM850 525h3v65h-3zM858 469h3v55h-3zM866 456h3v12h-3zM874 442h3v13h-3zM890 434h3v20h-3zM898 364h3v52h-3zM906 349h3v21h-3zM938 418h3v18h-3zM954 440h3v24h-3zM978 475h3v9h-3zM994 486h3v44h-3zM1002 483h3v12h-3zM1010 458h3v24h-3zM1018 420h3v37h-3zM1026 410h3v8h-3zM1042 383h3v12h-3zM1050 370h3v11h-3zM1066 363h3v28h-3zM1074 349h3v13h-3zM1106 357h3v15h-3zM1130 373h3v6h-3zM1138 353h3v16h-3zM1146 346h3v6h-3zM1154 328h3v17h-3zM1170 335h3v13h-3zM1202 346h3v2h-3zM1234 386h3v58h-3zM1258 379h3v30h-3zM1266 359h3v19h-3zM1298 376h3v5h-3zM1314 382h3v7h-3zM1346 428h3v4h-3zM1362 441h3v25h-3zM1378 435h3v20h-3zM1386 418h3v16h-3zM1402 380h3v47h-3zM1434 364h3v31h-3zM1450 372h3v7h-3zM1466 379h3v7h-3zM1482 358h3v15h-3zM1490 350h3v7h-3zM1498 338h3v11h-3zM1506 328h3v9h-3zM1514 307h3v20h-3zM1522 266h3v38h-3zM1538 273h3v7h-3zM1546 254h3v18h-3zM1554 245h3v8h-3zM1562 232h3v12h-3z" fill="#fff"/>
</g>
<g shape-rendering="crispEdges">
<rect x="2" y="2" width="1824" height="1" fill="#000"/>
<rect x="2" y="2" width="1" height="795" fill="#000"/>
<rect x="2" y="796" width="1824" height="1" fill="#000"/>
<rect x="1825" y="2" width="1" height="795" fill="#000"/>
</g>
<rect x="1826" y="91" width="2" height="1" fill="#000" shape-rendering="crispEdges"/>
<text x="1831.5" y="96" font-size="12" fill="#000" textLength="53.5" lengthAdjust="spacingAndGlyphs">7690.460</text>
<rect x="1826" y="140" width="2" height="1" fill="#000" shape-rendering="crispEdges"/>
<text x="1831.5" y="145" font-size="12" fill="#000" textLength="53.5" lengthAdjust="spacingAndGlyphs">7577.025</text>
<rect x="1826" y="189" width="2" height="1" fill="#000" shape-rendering="crispEdges"/>
<text x="1831.5" y="194" font-size="12" fill="#000" textLength="53.5" lengthAdjust="spacingAndGlyphs">7463.590</text>
<rect x="1826" y="238" width="2" height="1" fill="#000" shape-rendering="crispEdges"/>
<text x="1831.5" y="243" font-size="12" fill="#000" textLength="53.5" lengthAdjust="spacingAndGlyphs">7350.155</text>
<rect x="1826" y="287" width="2" height="1" fill="#000" shape-rendering="crispEdges"/>
<text x="1831.5" y="292" font-size="12" fill="#000" textLength="53.5" lengthAdjust="spacingAndGlyphs">7236.720</text>
<rect x="1826" y="336" width="2" height="1" fill="#000" shape-rendering="crispEdges"/>
<text x="1831.5" y="341" font-size="12" fill="#000" textLength="53.5" lengthAdjust="spacingAndGlyphs">7123.285</text>
<rect x="1826" y="385" width="2" height="1" fill="#000" shape-rendering="crispEdges"/>
<text x="1831.5" y="390" font-size="12" fill="#000" textLength="53.5" lengthAdjust="spacingAndGlyphs">7009.850</text>
<rect x="1826" y="434" width="2" height="1" fill="#000" shape-rendering="crispEdges"/>
<text x="1831.5" y="439" font-size="12" fill="#000" textLength="53.5" lengthAdjust="spacingAndGlyphs">6894.100</text>
<rect x="1826" y="483" width="2" height="1" fill="#000" shape-rendering="crispEdges"/>
<text x="1831.5" y="488" font-size="12" fill="#000" textLength="53.5" lengthAdjust="spacingAndGlyphs">6780.665</text>
<rect x="1826" y="532" width="2" height="1" fill="#000" shape-rendering="crispEdges"/>
<text x="1831.5" y="537" font-size="12" fill="#000" textLength="53.5" lengthAdjust="spacingAndGlyphs">6667.230</text>
<rect x="1826" y="581" width="2" height="1" fill="#000" shape-rendering="crispEdges"/>
<text x="1831.5" y="586" font-size="12" fill="#000" textLength="53.5" lengthAdjust="spacingAndGlyphs">6553.795</text>
<rect x="1826" y="630" width="2" height="1" fill="#000" shape-rendering="crispEdges"/>
<text x="1831.5" y="635" font-size="12" fill="#000" textLength="53.5" lengthAdjust="spacingAndGlyphs">6440.360</text>
<rect x="1826" y="679" width="2" height="1" fill="#000" shape-rendering="crispEdges"/>
<text x="1831.5" y="684" font-size="12" fill="#000" textLength="53.5" lengthAdjust="spacingAndGlyphs">6326.925</text>
<rect x="1826" y="728" width="2" height="1" fill="#000" shape-rendering="crispEdges"/>
<text x="1831.5" y="733" font-size="12" fill="#000" textLength="53.5" lengthAdjust="spacingAndGlyphs">6213.490</text>
<rect x="1826" y="777" width="2" height="1" fill="#000" shape-rendering="crispEdges"/>
<text x="1831.5" y="782" font-size="12" fill="#000" textLength="53.5" lengthAdjust="spacingAndGlyphs">6100.055</text>
<rect x="1826" y="42" width="2" height="1" fill="#000" shape-rendering="crispEdges"/>
<text x="1831.5" y="47" font-size="12" fill="#000" textLength="53.5" lengthAdjust="spacingAndGlyphs">7803.895</text>
<rect x="1827" y="261" width="63" height="13" fill="#000" shape-rendering="crispEdges"/>
<text x="1831.5" y="272" font-size="12" fill="#fff" textLength="53.5" lengthAdjust="spacingAndGlyphs">7283.127</text>
<rect x="1827" y="17" width="63" height="14" fill="#4169e1" shape-rendering="crispEdges"/>
<text x="1831.5" y="29" font-size="12" fill="#fff" textLength="53.5" lengthAdjust="spacingAndGlyphs">7850.000</text>
<rect x="1827" y="35" width="63" height="14" fill="#4169e1" shape-rendering="crispEdges"/>
<text x="1831.5" y="47" font-size="12" fill="#fff" textLength="53.5" lengthAdjust="spacingAndGlyphs">7808.000</text>
<rect x="1827" y="61" width="63" height="14" fill="#4169e1" shape-rendering="crispEdges"/>
<text x="1831.5" y="73" font-size="12" fill="#fff" textLength="53.5" lengthAdjust="spacingAndGlyphs">7746.000</text>
<rect x="1827" y="109" width="63" height="14" fill="#4169e1" shape-rendering="crispEdges"/>
<text x="1831.5" y="121" font-size="12" fill="#fff" textLength="53.5" lengthAdjust="spacingAndGlyphs">7635.000</text>
<rect x="1827" y="144" width="63" height="14" fill="#4169e1" shape-rendering="crispEdges"/>
<text x="1831.5" y="156" font-size="12" fill="#fff" textLength="53.5" lengthAdjust="spacingAndGlyphs">7554.000</text>
<rect x="1827" y="198" width="63" height="14" fill="#4169e1" shape-rendering="crispEdges"/>
<text x="1831.5" y="210" font-size="12" fill="#fff" textLength="53.5" lengthAdjust="spacingAndGlyphs">7428.000</text>
<rect x="1827" y="222" width="63" height="14" fill="#4169e1" shape-rendering="crispEdges"/>
<text x="1831.5" y="234" font-size="12" fill="#fff" textLength="53.5" lengthAdjust="spacingAndGlyphs">7374.000</text>
<rect x="1827" y="257" width="63" height="14" fill="#4169e1" shape-rendering="crispEdges"/>
<text x="1831.5" y="269" font-size="12" fill="#fff" textLength="53.5" lengthAdjust="spacingAndGlyphs">7292.000</text>
<rect x="1827" y="291" width="63" height="14" fill="#4169e1" shape-rendering="crispEdges"/>
<text x="1831.5" y="303" font-size="12" fill="#fff" textLength="53.5" lengthAdjust="spacingAndGlyphs">7214.000</text>
<rect x="1827" y="315" width="63" height="14" fill="#4169e1" shape-rendering="crispEdges"/>
<text x="1831.5" y="327" font-size="12" fill="#fff" textLength="53.5" lengthAdjust="spacingAndGlyphs">7158.000</text>
<rect x="1827" y="338" width="63" height="14" fill="#4169e1" shape-rendering="crispEdges"/>
<text x="1831.5" y="350" font-size="12" fill="#fff" textLength="53.5" lengthAdjust="spacingAndGlyphs">7104.000</text>
<rect x="1827" y="363" width="63" height="14" fill="#4169e1" shape-rendering="crispEdges"/>
<text x="1831.5" y="375" font-size="12" fill="#fff" textLength="53.5" lengthAdjust="spacingAndGlyphs">7046.000</text>
<rect x="1827" y="403" width="63" height="14" fill="#4169e1" shape-rendering="crispEdges"/>
<text x="1831.5" y="415" font-size="12" fill="#fff" textLength="53.5" lengthAdjust="spacingAndGlyphs">6954.000</text>
<rect x="1827" y="458" width="63" height="14" fill="#4169e1" shape-rendering="crispEdges"/>
<text x="1831.5" y="470" font-size="12" fill="#fff" textLength="53.5" lengthAdjust="spacingAndGlyphs">6825.000</text>
<rect x="1827" y="504" width="63" height="14" fill="#4169e1" shape-rendering="crispEdges"/>
<text x="1831.5" y="516" font-size="12" fill="#fff" textLength="53.5" lengthAdjust="spacingAndGlyphs">6718.000</text>
<rect x="1827" y="547" width="63" height="14" fill="#4169e1" shape-rendering="crispEdges"/>
<text x="1831.5" y="559" font-size="12" fill="#fff" textLength="53.5" lengthAdjust="spacingAndGlyphs">6620.000</text>
<rect x="1827" y="574" width="63" height="14" fill="#4169e1" shape-rendering="crispEdges"/>
<text x="1831.5" y="586" font-size="12" fill="#fff" textLength="53.5" lengthAdjust="spacingAndGlyphs">6557.000</text>
<rect x="1827" y="595" width="63" height="14" fill="#4169e1" shape-rendering="crispEdges"/>
<text x="1831.5" y="607" font-size="12" fill="#fff" textLength="53.5" lengthAdjust="spacingAndGlyphs">6508.000</text>
<rect x="1827" y="623" width="63" height="14" fill="#4169e1" shape-rendering="crispEdges"/>
<text x="1831.5" y="635" font-size="12" fill="#fff" textLength="53.5" lengthAdjust="spacingAndGlyphs">6443.000</text>
<rect x="1827" y="668" width="63" height="14" fill="#4169e1" shape-rendering="crispEdges"/>
<text x="1831.5" y="680" font-size="12" fill="#fff" textLength="53.5" lengthAdjust="spacingAndGlyphs">6339.000</text>
<rect x="1827" y="695" width="63" height="14" fill="#4169e1" shape-rendering="crispEdges"/>
<text x="1831.5" y="707" font-size="12" fill="#fff" textLength="53.5" lengthAdjust="spacingAndGlyphs">6276.000</text>
<rect x="1827" y="717" width="63" height="14" fill="#4169e1" shape-rendering="crispEdges"/>
<text x="1831.5" y="729" font-size="12" fill="#fff" textLength="53.5" lengthAdjust="spacingAndGlyphs">6224.000</text>
<rect x="1827" y="761" width="63" height="14" fill="#4169e1" shape-rendering="crispEdges"/>
<text x="1831.5" y="773" font-size="12" fill="#fff" textLength="53.5" lengthAdjust="spacingAndGlyphs">6122.000</text>
<rect x="1827" y="776" width="63" height="14" fill="#4169e1" shape-rendering="crispEdges"/>
<text x="1831.5" y="788" font-size="12" fill="#fff" textLength="53.5" lengthAdjust="spacingAndGlyphs">6088.000</text>
<rect x="3" y="797" width="1" height="3" fill="#000" shape-rendering="crispEdges"/>
<text transform="translate(2,812) scale(1.04,1)" font-size="12" fill="#000">8 Jan 2026</text>
<rect x="99" y="797" width="1" height="3" fill="#000" shape-rendering="crispEdges"/>
<text transform="translate(97.5,812) scale(1.04,1)" font-size="12" fill="#000">12 Jan 06:01</text>
<rect x="195" y="797" width="1" height="3" fill="#000" shape-rendering="crispEdges"/>
<text transform="translate(193.5,812) scale(1.04,1)" font-size="12" fill="#000">14 Jan 06:01</text>
<rect x="291" y="797" width="1" height="3" fill="#000" shape-rendering="crispEdges"/>
<text transform="translate(289.5,812) scale(1.04,1)" font-size="12" fill="#000">16 Jan 06:01</text>
<rect x="387" y="797" width="1" height="3" fill="#000" shape-rendering="crispEdges"/>
<text transform="translate(385.5,812) scale(1.04,1)" font-size="12" fill="#000">20 Jan 06:01</text>
<rect x="483" y="797" width="1" height="3" fill="#000" shape-rendering="crispEdges"/>
<text transform="translate(481.5,812) scale(1.04,1)" font-size="12" fill="#000">22 Jan 06:01</text>
<rect x="579" y="797" width="1" height="3" fill="#000" shape-rendering="crispEdges"/>
<text transform="translate(577.5,812) scale(1.04,1)" font-size="12" fill="#000">26 Jan 06:01</text>
<rect x="675" y="797" width="1" height="3" fill="#000" shape-rendering="crispEdges"/>
<text transform="translate(673.5,812) scale(1.04,1)" font-size="12" fill="#000">28 Jan 06:01</text>
<rect x="771" y="797" width="1" height="3" fill="#000" shape-rendering="crispEdges"/>
<text transform="translate(769.5,812) scale(1.04,1)" font-size="12" fill="#000">30 Jan 10:01</text>
<rect x="867" y="797" width="1" height="3" fill="#000" shape-rendering="crispEdges"/>
<text transform="translate(865.5,812) scale(1.04,1)" font-size="12" fill="#000">3 Feb 10:01</text>
<rect x="963" y="797" width="1" height="3" fill="#000" shape-rendering="crispEdges"/>
<text transform="translate(961.5,812) scale(1.04,1)" font-size="12" fill="#000">5 Feb 10:01</text>
<rect x="1059" y="797" width="1" height="3" fill="#000" shape-rendering="crispEdges"/>
<text transform="translate(1057.5,812) scale(1.04,1)" font-size="12" fill="#000">9 Feb 10:01</text>
<rect x="1155" y="797" width="1" height="3" fill="#000" shape-rendering="crispEdges"/>
<text transform="translate(1153.5,812) scale(1.04,1)" font-size="12" fill="#000">11 Feb 10:01</text>
<rect x="1251" y="797" width="1" height="3" fill="#000" shape-rendering="crispEdges"/>
<text transform="translate(1249.5,812) scale(1.04,1)" font-size="12" fill="#000">13 Feb 10:01</text>
<rect x="1347" y="797" width="1" height="3" fill="#000" shape-rendering="crispEdges"/>
<text transform="translate(1345.5,812) scale(1.04,1)" font-size="12" fill="#000">17 Feb 10:01</text>
<rect x="1443" y="797" width="1" height="3" fill="#000" shape-rendering="crispEdges"/>
<text transform="translate(1441.5,812) scale(1.04,1)" font-size="12" fill="#000">19 Feb 10:01</text>
<rect x="1539" y="797" width="1" height="3" fill="#000" shape-rendering="crispEdges"/>
<text transform="translate(1537.5,812) scale(1.04,1)" font-size="12" fill="#000">23 Feb 10:01</text>
<path d="M6 10h9l-4.5 5z" fill="#000"/>
<text x="21" y="17" font-size="12" fill="#000" textLength="66" lengthAdjust="spacingAndGlyphs">GAUTRY,H4</text>
<text x="95" y="17" font-size="12" fill="#000" textLength="224" lengthAdjust="spacingAndGlyphs">7312.371 7317.426 7273.813 7283.127</text>
<text x="168" y="449" font-size="20.5" fill="#4169e1" textLength="262" lengthAdjust="spacingAndGlyphs">21 Periyotluk Üstel Envelopes</text>
</svg></body></html>
